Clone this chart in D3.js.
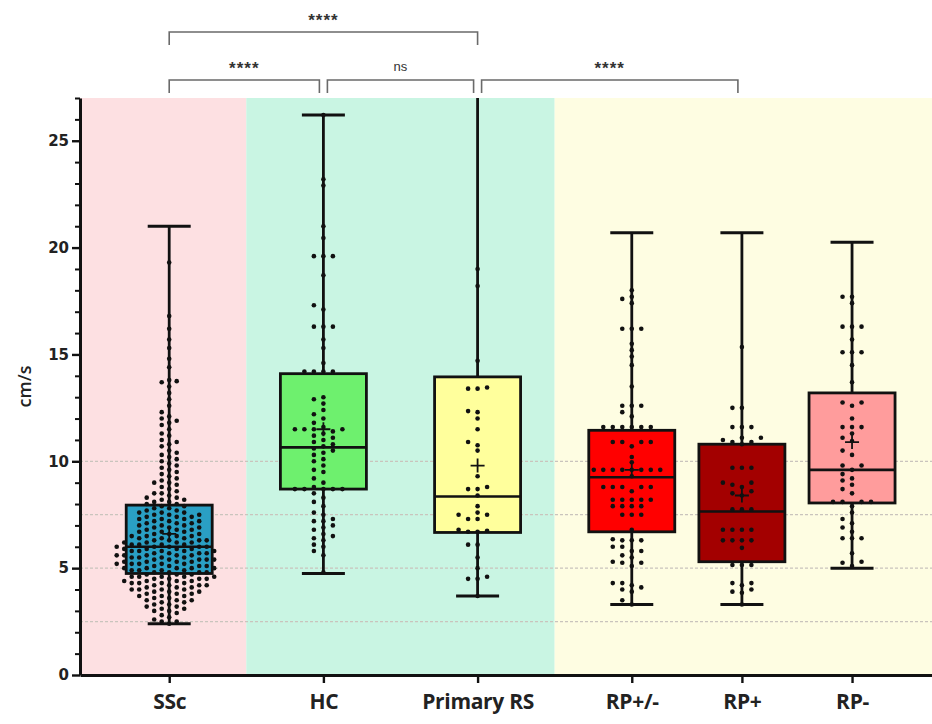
<!DOCTYPE html>
<html>
<head>
<meta charset="utf-8">
<script src="https://cdn.jsdelivr.net/npm/d3@7"></script>
<style>
  body { margin: 0; background: #ffffff; }
  svg { display: block; }
</style>
</head>
<body>
<div id="chart"></div>
<script>
// ---- data ----
const categories = ["SSc", "HC", "Primary RS", "RP+/-", "RP+", "RP-"];

// box / whisker stats (cm/s)
const whiskerLow  = [2.4, 4.75, 3.7, 3.3, 3.3, 5.0];
const quartile1   = [4.75, 8.7, 6.67, 6.7, 5.3, 8.05];
const medians     = [6.0, 10.65, 8.35, 9.25, 7.65, 9.6];
const quartile3   = [7.95, 14.1, 13.95, 11.45, 10.8, 13.2];
const whiskerHigh = [21.0, 26.2, 27.5, 20.7, 20.7, 20.25];
const means       = [6.6, 11.5, 9.8, 9.6, 8.4, 10.9];

// individual points
const sscValues = [
  2.4, 2.5, 2.5, 2.6, 2.7, 2.8, 2.9, 3.0, 3.0, 3.1, 3.1, 3.2, 3.2, 3.3, 3.3, 3.4, 3.4, 3.5, 3.5, 3.5,
  3.6, 3.6, 3.7, 3.7, 3.7, 3.8, 3.8, 3.8, 3.9, 3.9, 3.9, 4.0, 4.0, 4.0, 4.0, 4.1, 4.1, 4.1, 4.2, 4.2,
  4.2, 4.2, 4.3, 4.3, 4.3, 4.3, 4.4, 4.4, 4.4, 4.4, 4.5, 4.5, 4.5, 4.5, 4.6, 4.6, 4.6, 4.6, 4.6, 4.7,
  4.7, 4.7, 4.8, 4.8, 4.8, 4.8, 4.9, 4.9, 4.9, 4.9, 5.0, 5.0, 5.0, 5.0, 5.0, 5.1, 5.1, 5.1, 5.1, 5.2,
  5.2, 5.2, 5.2, 5.2, 5.3, 5.3, 5.3, 5.3, 5.4, 5.4, 5.4, 5.4, 5.4, 5.5, 5.5, 5.5, 5.5, 5.6, 5.6, 5.6,
  5.6, 5.6, 5.7, 5.7, 5.7, 5.7, 5.8, 5.8, 5.8, 5.8, 5.8, 5.9, 5.9, 5.9, 5.9, 6.0, 6.0, 6.0, 6.0, 6.0,
  6.1, 6.1, 6.1, 6.1, 6.2, 6.2, 6.2, 6.2, 6.3, 6.3, 6.3, 6.3, 6.4, 6.4, 6.4, 6.5, 6.5, 6.5, 6.5, 6.6,
  6.6, 6.6, 6.7, 6.7, 6.7, 6.8, 6.8, 6.8, 6.9, 6.9, 6.9, 7.0, 7.0, 7.0, 7.1, 7.1, 7.1, 7.2, 7.2, 7.2,
  7.3, 7.3, 7.3, 7.4, 7.4, 7.4, 7.5, 7.5, 7.5, 7.6, 7.6, 7.6, 7.7, 7.7, 7.8, 7.8, 7.9, 7.9,
  8.0, 8.0, 8.1, 8.1, 8.2, 8.2, 8.3, 8.3, 8.4, 8.5, 8.5, 8.6, 8.7, 8.8, 8.9, 9.0, 9.0, 9.1, 9.2, 9.3,
  9.4, 9.5, 9.6, 9.7, 9.8, 9.9, 10.0, 10.1, 10.2, 10.3, 10.4, 10.5, 10.7, 10.8, 10.9, 11.0, 11.2, 11.3,
  11.5, 11.7, 11.8, 11.9, 12.0, 12.1, 12.3, 12.6, 12.9, 13.2, 13.5, 13.7, 13.75, 13.8, 14.4, 14.8,
  15.3, 15.7, 16.2, 16.8, 19.3
];
const hcValues = [
  4.8, 5.6, 5.8, 6.0, 6.1, 6.3, 6.4, 6.5, 6.6, 6.8, 6.9, 7.0, 7.2, 7.2, 7.3, 7.5, 7.6, 7.9, 8.1, 8.3,
  8.5, 8.7, 8.7, 8.7, 8.7, 8.7, 8.8, 9.0, 9.2, 9.5, 9.6, 9.8, 10.0, 10.1, 10.3, 10.4, 10.5, 10.6, 10.7,
  10.8, 10.9, 11.0, 11.1, 11.2, 11.3, 11.4, 11.5, 11.5, 11.5, 11.5, 11.6, 11.8, 12.0, 12.2, 12.4, 12.7,
  12.9, 13.0, 14.2, 14.2, 14.2, 14.2, 14.6, 15.3, 15.7, 16.3, 16.3, 16.3, 17.1, 17.3, 18.7, 19.6, 19.6,
  19.6, 20.45, 21.0, 22.9, 23.2, 26.2
];
const primaryRsValues = [
  3.7, 4.5, 4.5, 4.6, 5.0, 5.5, 6.1, 6.1, 6.7, 6.7, 6.75, 6.8, 7.3, 7.3, 7.5, 7.5, 7.6, 7.9, 8.4, 8.7,
  8.7, 8.8, 9.3, 10.5, 10.75, 10.9, 11.5, 12.0, 12.3, 12.35, 13.4, 13.4, 13.45, 14.7, 18.2, 19.0
];
const rpMixedValues = [
  3.3, 3.5, 3.9, 4.0, 4.1, 4.2, 4.3, 4.3, 5.1, 5.25, 5.25, 5.3, 5.5, 5.6, 5.8, 5.8, 6.0, 6.0, 6.3, 6.3,
  6.3, 6.35, 6.8, 7.5, 7.5, 7.5, 7.9, 7.9, 7.9, 7.9, 8.2, 8.2, 8.2, 8.2, 8.2, 8.6, 8.8, 8.8, 8.8, 8.8,
  8.8, 9.3, 9.6, 9.6, 9.6, 9.6, 9.6, 9.6, 9.6, 9.6, 9.95, 10.2, 10.7, 10.9, 10.9, 10.9, 10.9, 11.6, 11.6,
  11.6, 11.6, 11.6, 11.6, 12.1, 12.3, 12.6, 12.6, 12.6, 13.5, 14.5, 14.9, 15.2, 15.5, 16.2, 16.2, 16.2,
  17.4, 17.6, 17.7, 18.0
];
const rpPosValues = [
  3.3, 3.85, 3.9, 4.0, 4.2, 4.3, 4.3, 5.15, 5.15, 5.15, 5.95, 6.3, 6.3, 6.3, 6.3, 6.8, 6.8, 6.8, 6.8,
  7.75, 7.75, 7.75, 8.4, 8.5, 8.6, 8.8, 8.9, 9.0, 9.0, 9.7, 9.7, 9.7, 10.8, 10.9, 10.9, 11.0, 11.1,
  11.1, 11.6, 11.6, 11.6, 12.5, 12.5, 15.35
];
const rpNegValues = [
  5.1, 5.25, 5.3, 5.7, 6.4, 6.4, 6.4, 6.7, 6.9, 7.1, 7.3, 7.6, 7.9, 8.1, 8.1, 8.1, 8.1, 8.5, 8.7, 8.9,
  9.1, 9.2, 9.4, 9.6, 9.8, 9.8, 10.3, 10.5, 10.95, 11.1, 11.3, 11.6, 11.6, 11.6, 12.0, 12.6, 12.75,
  12.75, 13.7, 14.5, 15.1, 15.1, 15.1, 15.7, 16.3, 16.3, 16.3, 17.4, 17.7, 17.7
];
const groupValues = [sscValues, hcValues, primaryRsValues, rpMixedValues, rpPosValues, rpNegValues];

const yTicks = [0, 5, 10, 15, 20, 25];
const gridValues = [2.5, 5, 7.5, 10];

// significance comparisons: [from, to, label, level]
const comparisons = [
  [0, 1, "****", 0],
  [1, 2, "ns", 0],
  [2, 4, "****", 0],
  [0, 2, "****", 1]
];

// ---- layout ----
const width = 932, height = 724;
const slots = [0, 1.4, 2.8, 4.2, 5.2, 6.2];          // column positions (Prism spacing)
const regions = [[-0.81, 0.7, "#fde0e2"], [0.7, 3.5, "#c9f5e3"], [3.5, 7.5, "#fefde2"]];
const fills = ["#2a9fc4", "#6ef06e", "#ffff9c", "#ff0000", "#a30000", "#ff9c9c"];
// swarm spacing per column: [horizontal step, min distance between dot centres]
const swarmSpacing = [[7.5, 5.9], [9.5, 5.2], [9.5, 5.2], [9.5, 5.2], [9.5, 5.2], [9.5, 5.2]];
const boxW = 86, capW = 43, dotR = 2.3;

const svg = d3.select("#chart").append("svg")
  .attr("width", width)
  .attr("height", height);

const x = d3.scaleLinear().domain([-0.81, 6.926]).range([80, 932]);
const y = d3.scaleLinear().domain([0, 27]).range([675, 98]);

svg.append("defs").append("clipPath").attr("id", "plot-clip")
  .append("rect").attr("x", 80).attr("y", y(27)).attr("width", width - 80).attr("height", y(0) - y(27));

// background bands
svg.append("g").selectAll("rect")
  .data(regions)
  .enter().append("rect")
  .attr("x", d => x(d[0]))
  .attr("width", d => Math.min(x(d[1]), width) - x(d[0]))
  .attr("y", y(27))
  .attr("height", y(0) - y(27))
  .style("fill", d => d[2]);

// dotted grid lines
svg.append("g").selectAll("line")
  .data(gridValues)
  .enter().append("line")
  .attr("x1", 80).attr("x2", width)
  .attr("y1", d => y(d)).attr("y2", d => y(d))
  .style("stroke", "#c9c4bd")
  .style("stroke-width", 1.2)
  .style("stroke-dasharray", "3,2");

// simple beeswarm: place each point at the nearest free horizontal slot
function swarm(values, step, minDist) {
  const placed = [];
  values.slice().sort((a, b) => a - b).forEach(v => {
    const py = y(v);
    for (let k = 0; k < 80; k++) {
      const off = (k % 2 ? -1 : 1) * Math.ceil(k / 2) * step;
      const hit = placed.some(p => {
        const dx = p.dx - off, dy = p.py - py;
        return dx * dx + dy * dy < minDist * minDist;
      });
      if (!hit) { placed.push({ v: v, py: py, dx: off }); break; }
    }
  });
  return placed;
}

const plot = svg.append("g").attr("clip-path", "url(#plot-clip)");

categories.forEach(function (cat, i) {
  const cx = x(slots[i]);
  const g = plot.append("g");

  // whisker
  g.append("line")
    .attr("x1", cx).attr("x2", cx)
    .attr("y1", y(whiskerLow[i])).attr("y2", y(whiskerHigh[i]))
    .style("stroke", "#111").style("stroke-width", 2.8);

  // box
  g.append("rect")
    .attr("x", cx - boxW / 2)
    .attr("width", boxW)
    .attr("y", y(quartile3[i]))
    .attr("height", y(quartile1[i]) - y(quartile3[i]))
    .style("fill", fills[i])
    .style("stroke", "#111")
    .style("stroke-width", 2.8);

  // median
  g.append("line")
    .attr("x1", cx - boxW / 2).attr("x2", cx + boxW / 2)
    .attr("y1", y(medians[i])).attr("y2", y(medians[i]))
    .style("stroke", "#111").style("stroke-width", 2.6);

  // points
  g.selectAll("circle")
    .data(swarm(groupValues[i], swarmSpacing[i][0], swarmSpacing[i][1]))
    .enter().append("circle")
    .attr("cx", d => cx + d.dx)
    .attr("cy", d => d.py)
    .attr("r", dotR)
    .style("fill", "#111");

  // mean "+"
  g.append("path")
    .attr("d", "M" + (cx - 7) + "," + y(means[i]) + "h14M" + cx + "," + (y(means[i]) - 7) + "v14")
    .style("stroke", "#111").style("stroke-width", 1.8);

  // caps
  [whiskerLow[i], whiskerHigh[i]].forEach(function (v) {
    g.append("line")
      .attr("x1", cx - capW / 2).attr("x2", cx + capW / 2)
      .attr("y1", y(v)).attr("y2", y(v))
      .style("stroke", "#111").style("stroke-width", 3);
  });
});

// y axis (major + minor ticks)
const minorTicks = d3.range(1, 28).filter(d => d % 5 !== 0);
svg.append("g")
  .attr("transform", "translate(80,0)")
  .call(d3.axisLeft(y).tickValues(minorTicks).tickSize(5).tickFormat(""))
  .call(g => g.select(".domain").remove())
  .selectAll("line").style("stroke", "#111").style("stroke-width", 2);

const yAxis = svg.append("g")
  .attr("transform", "translate(80,0)")
  .call(d3.axisLeft(y).tickValues(yTicks).tickSize(8).tickSizeOuter(0).tickPadding(3));
yAxis.select(".domain").style("stroke", "#111").style("stroke-width", 3);
yAxis.selectAll(".tick line").style("stroke", "#111").style("stroke-width", 2.4);
yAxis.selectAll("text")
  .style("font-family", "DejaVu Sans, sans-serif")
  .style("font-weight", "bold")
  .style("font-size", "15px")
  .style("fill", "#222");

svg.append("text")
  .attr("transform", "translate(31," + y(13.5) + ") rotate(-90)")
  .attr("text-anchor", "middle")
  .style("font-family", "Open Sans, sans-serif")
  .style("font-weight", 600)
  .style("font-size", "18px")
  .style("fill", "#222")
  .text("cm/s");

// x axis
const xAxis = svg.append("g")
  .attr("transform", "translate(0," + y(0) + ")")
  .call(d3.axisBottom(x).tickValues(slots).tickSize(8).tickSizeOuter(0).tickPadding(11)
    .tickFormat((d, i) => categories[i]));
xAxis.select(".domain").style("stroke", "#111").style("stroke-width", 3);
xAxis.selectAll(".tick line").style("stroke", "#111").style("stroke-width", 2.4);
xAxis.selectAll("text")
  .style("font-family", "Open Sans, sans-serif")
  .style("font-weight", "bold")
  .style("font-size", "21px")
  .style("letter-spacing", "-0.3px")
  .style("fill", "#222");

// significance brackets
const bracketY = [80, 32];
const brackets = svg.append("g");
comparisons.forEach(function (c) {
  const inset = c[3] === 0 ? 4 : 0;
  const x1 = x(slots[c[0]]) + (c[0] === 0 ? 0 : inset);
  const x2 = x(slots[c[1]]) - inset;
  const by = bracketY[c[3]];
  brackets.append("path")
    .attr("d", "M" + x1 + "," + (by + 13) + "V" + by + "H" + x2 + "V" + (by + 13))
    .style("fill", "none")
    .style("stroke", "#6a6a6a")
    .style("stroke-width", 1.6);
  brackets.append("text")
    .attr("x", (x1 + x2) / 2)
    .attr("y", by - (c[2] === "ns" ? 9 : 6))
    .attr("text-anchor", "middle")
    .style("font-family", "Liberation Sans, Arial, sans-serif")
    .style("font-weight", c[2] === "ns" ? "normal" : "bold")
    .style("font-size", c[2] === "ns" ? "13px" : "17px")
    .style("letter-spacing", c[2] === "ns" ? "0px" : "1px")
    .style("fill", "#333")
    .text(c[2]);
});
</script>
</body>
</html>
